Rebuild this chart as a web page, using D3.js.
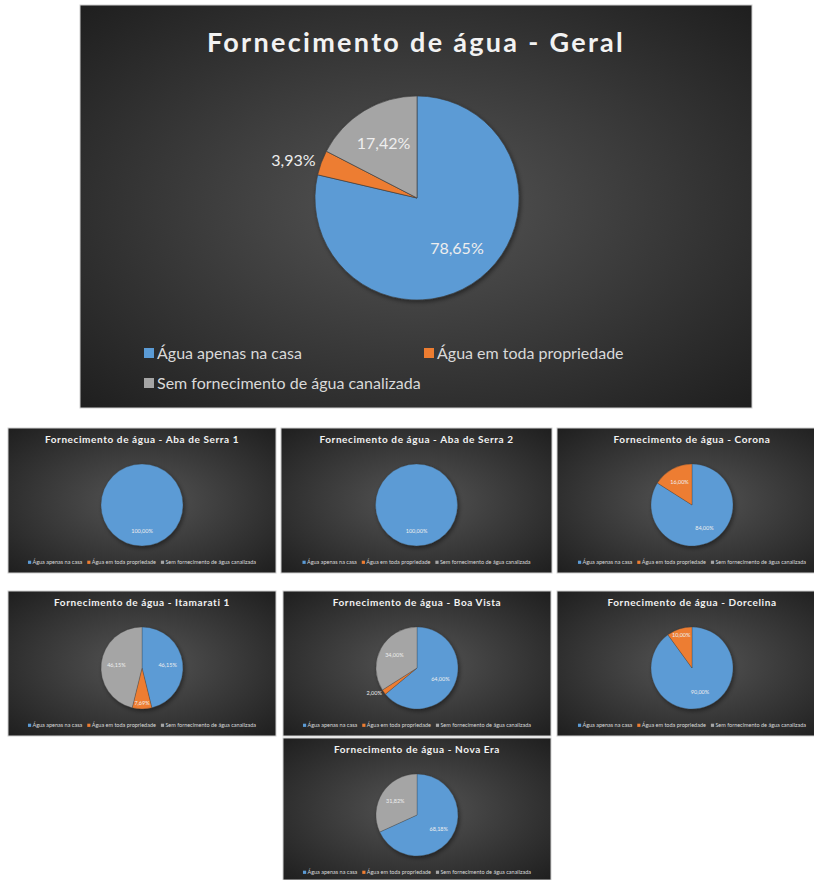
<!DOCTYPE html>
<html>
<head>
<meta charset="utf-8">
<script src="https://cdn.jsdelivr.net/npm/d3@7"></script>
<style>
  body { margin: 0; background: #fff; }
  svg { display: block; font-family: Lato, "Open Sans", sans-serif; }
</style>
</head>
<body>
<div id="chart"></div>
<script>
// categories, colours and the values of each pie (in %)
const categories = ["Água apenas na casa", "Água em toda propriedade", "Sem fornecimento de água canalizada"];
const colors = ["#5B9BD5", "#ED7D31", "#A5A5A5"];
const titles = ["Geral", "Aba de Serra 1", "Aba de Serra 2", "Corona", "Itamarati 1", "Boa Vista", "Dorcelina", "Nova Era"];
const geral = [78.65, 3.93, 17.42];
const abaSerra1 = [100, 0, 0];
const abaSerra2 = [100, 0, 0];
const corona = [84, 16, 0];
const itamarati1 = [46.15, 7.69, 46.15];
const boaVista = [64, 2, 34];
const dorcelina = [90, 10, 0];
const novaEra = [68.18, 0, 31.82];
const allValues = [geral, abaSerra1, abaSerra2, corona, itamarati1, boaVista, dorcelina, novaEra];

// panel boxes on the page
const panels = [
    { x: 80, y: 5, w: 672, h: 403, big: true },
    { x: 8, y: 428, w: 268, h: 145 },
    { x: 281, y: 428, w: 271, h: 145 },
    { x: 557, y: 428, w: 270, h: 145 },
    { x: 8, y: 591, w: 268, h: 145 },
    { x: 283, y: 591, w: 268, h: 145 },
    { x: 557, y: 591, w: 270, h: 145 },
    { x: 283, y: 738, w: 268, h: 142 }
];

const W = 814, H = 880;
const svg = d3.select("#chart").append("svg")
    .attr("width", W).attr("height", H)
    .style("overflow", "hidden");

const defs = svg.append("defs");
const grad = defs.append("radialGradient").attr("id", "bg")
    .attr("cx", "50%").attr("cy", "50%").attr("r", "70%");
grad.append("stop").attr("offset", "0%").attr("stop-color", "#555555");
grad.append("stop").attr("offset", "100%").attr("stop-color", "#1f1f1f");
const shadow = defs.append("filter").attr("id", "shadow")
    .attr("x", "-20%").attr("y", "-20%").attr("width", "140%").attr("height", "140%");
shadow.append("feDropShadow").attr("dx", 1.5).attr("dy", 2).attr("stdDeviation", 2)
    .attr("flood-color", "#000").attr("flood-opacity", 0.45);

const fmt = v => d3.format(".2f")(v).replace(".", ",") + "%";
const pie = d3.pie().sort(null).value(d => d);

panels.forEach((p, i) => {
    const big = !!p.big;
    const values = allValues[i];
    const g = svg.append("g").attr("transform", `translate(${p.x},${p.y})`);
    g.append("rect")
        .attr("width", p.w).attr("height", p.h)
        .attr("fill", "url(#bg)")
        .attr("stroke", "#cfcfcf").attr("stroke-width", 1);

    // title
    g.append("text")
        .attr("x", p.w / 2)
        .attr("y", big ? 47 : 15)
        .attr("text-anchor", "middle")
        .attr("fill", "#f2f2f2")
        .attr("font-weight", 700)
        .attr("font-size", big ? 27 : 10)
        .attr("letter-spacing", big ? 2.3 : 0.6)
        .text("Fornecimento de água - " + titles[i]);

    const r = big ? 102 : 41;
    const cx = p.w / 2 + (big ? 1 : 0);
    const cy = big ? 193 : 77;
    const pg = g.append("g").attr("transform", `translate(${cx},${cy})`);
    const arcs = pie(values);
    const arc = d3.arc().innerRadius(0).outerRadius(r);

    pg.append("g").attr("filter", "url(#shadow)")
        .selectAll("path")
        .data(arcs.filter(d => d.data > 0))
        .join("path")
        .attr("d", arc)
        .attr("fill", d => colors[arcs.indexOf(d)])
        .attr("stroke", "#3a3a3a")
        .attr("stroke-width", big ? 0.6 : 0.3);

    // data labels
    arcs.forEach(d => {
        if (d.data <= 0) return;
        const a = (d.startAngle + d.endAngle) / 2;
        let rr, anchor = "middle";
        if (d.data < 5) { rr = r * 1.06; anchor = Math.sin(a) < 0 ? "end" : "start"; }
        else if (d.data <= 10) rr = r * 0.85;
        else rr = r * 0.63;
        pg.append("text")
            .attr("x", Math.sin(a) * rr)
            .attr("y", -Math.cos(a) * rr)
            .attr("dy", "0.35em")
            .attr("text-anchor", anchor)
            .attr("fill", "#eeeeee")
            .attr("font-size", big ? 16 : 5.5)
            .text(fmt(d.data));
    });

    // legend
    const lg = g.append("g");
    if (big) {
        const pos = [[64, 354], [344, 354], [64, 384]];
        categories.forEach((c, k) => {
            lg.append("rect").attr("x", pos[k][0]).attr("y", pos[k][1] - 11)
                .attr("width", 10).attr("height", 10).attr("fill", colors[k]);
            lg.append("text").attr("x", pos[k][0] + 13).attr("y", pos[k][1])
                .attr("fill", "#d9d9d9").attr("font-size", 16).text(c);
        });
    } else {
        let x = 0;
        categories.forEach((c, k) => {
            lg.append("rect").attr("x", x).attr("y", -3.3)
                .attr("width", 3.2).attr("height", 3.2).attr("fill", colors[k]);
            const t = lg.append("text").attr("x", x + 4.5).attr("y", 0)
                .attr("fill", "#d9d9d9").attr("font-size", 5.5).text(c);
            x += 4.5 + t.node().getComputedTextLength() + 5;
        });
        lg.attr("transform", `translate(${(p.w - (x - 5)) / 2},${136})`);
    }
});
</script>
</body>
</html>
